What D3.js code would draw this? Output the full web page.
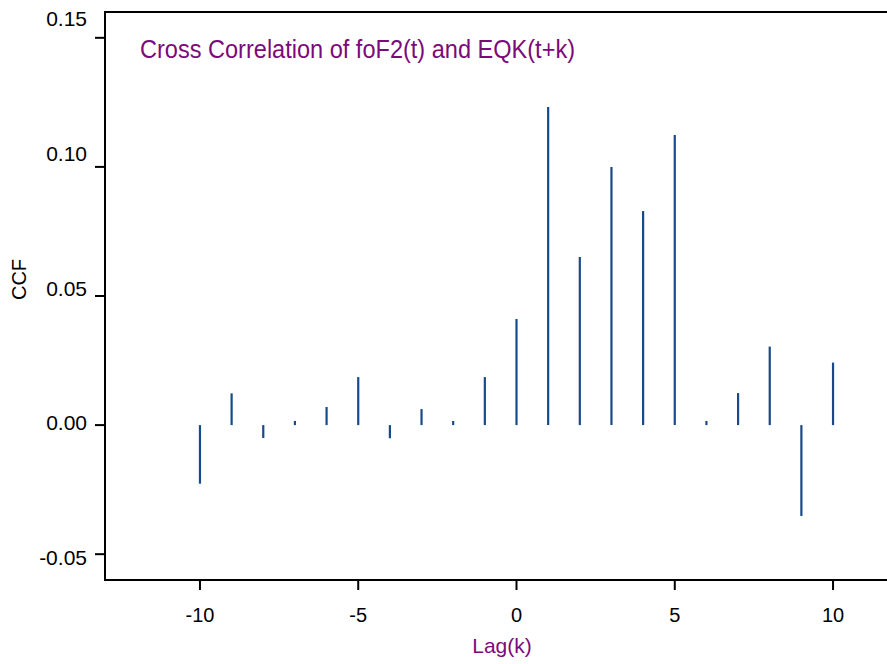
<!DOCTYPE html>
<html>
<head>
<meta charset="utf-8">
<script src="https://cdn.jsdelivr.net/npm/d3@7"></script>
<style>
  body { margin: 0; background: #fff; }
  svg { display: block; font-family: "Liberation Sans", Arial, sans-serif; }
</style>
</head>
<body>
<div id="chart"></div>
<script>
// lags and cross-correlation values
const lags = [-10, -9, -8, -7, -6, -5, -4, -3, -2, -1, 0, 1, 2, 3, 4, 5, 6, 7, 8, 9, 10];
const ccf = [-0.0227, 0.0123, -0.0050, 0.0016, 0.0070, 0.0186, -0.0051, 0.0062, 0.0016, 0.0186,
  0.0411, 0.1232, 0.0651, 0.1000, 0.0829, 0.1124, 0.0016, 0.0124, 0.0304, -0.0352, 0.0242];
const xTicks = [-10, -5, 0, 5, 10];
const yTicks = [-0.05, 0.00, 0.05, 0.10, 0.15];

const width = 887, height = 664;
const svg = d3.select("#chart").append("svg")
  .attr("width", width)
  .attr("height", height);

const x = d3.scaleLinear().domain([-13, 13]).range([105, 928]);
const y = d3.scaleLinear().domain([-0.06, 0.16]).range([580, 12]);
// tick labels in the original sit on a slightly different spacing than the ticks
const yLab = d3.scaleLinear().domain([-0.05, 0.15]).range([565, 26]);

// frame
svg.append("rect")
  .attr("x", x(-13))
  .attr("y", y(0.16))
  .attr("width", x(13) - x(-13))
  .attr("height", y(-0.06) - y(0.16))
  .attr("fill", "none")
  .attr("stroke", "#000")
  .attr("stroke-width", 2);

// y ticks
svg.append("g").selectAll("line")
  .data(yTicks)
  .enter().append("line")
  .attr("x1", 95).attr("x2", x(-13))
  .attr("y1", d => y(d)).attr("y2", d => y(d))
  .attr("stroke", "#000").attr("stroke-width", 2);

svg.append("g").selectAll("text")
  .data(yTicks)
  .enter().append("text")
  .attr("x", 87)
  .attr("y", d => yLab(d))
  .attr("text-anchor", "end")
  .attr("font-size", 21)
  .text(d => d.toFixed(2));

// x ticks
svg.append("g").selectAll("line")
  .data(xTicks)
  .enter().append("line")
  .attr("x1", d => x(d)).attr("x2", d => x(d))
  .attr("y1", y(-0.06)).attr("y2", y(-0.06) + 10)
  .attr("stroke", "#000").attr("stroke-width", 2);

svg.append("g").selectAll("text")
  .data(xTicks)
  .enter().append("text")
  .attr("x", d => x(d))
  .attr("y", 622)
  .attr("text-anchor", "middle")
  .attr("font-size", 20)
  .text(d => String(d));

// spikes
svg.append("g").selectAll("line")
  .data(lags.map((k, i) => ({k: k, v: ccf[i]})))
  .enter().append("line")
  .attr("x1", d => x(d.k)).attr("x2", d => x(d.k))
  .attr("y1", y(0)).attr("y2", d => y(d.v))
  .attr("stroke", "#174a8a")
  .attr("stroke-width", 2.2);

// title
svg.append("text")
  .attr("x", 140)
  .attr("y", 58)
  .attr("font-size", 25)
  .attr("font-family", "'Liberation Sans Narrow', 'Arial Narrow', sans-serif")
  .attr("textLength", 435)
  .attr("lengthAdjust", "spacingAndGlyphs")
  .attr("fill", "#7b0a7a")
  .text("Cross Correlation of foF2(t) and EQK(t+k)");

// axis labels
svg.append("text")
  .attr("x", 502)
  .attr("y", 653)
  .attr("text-anchor", "middle")
  .attr("font-size", 21)
  .attr("fill", "#7b0a7a")
  .text("Lag(k)");

svg.append("text")
  .attr("transform", "translate(26,279.5) rotate(-90)")
  .attr("text-anchor", "middle")
  .attr("font-size", 20)
  .attr("fill", "#000")
  .text("CCF");
</script>
</body>
</html>
